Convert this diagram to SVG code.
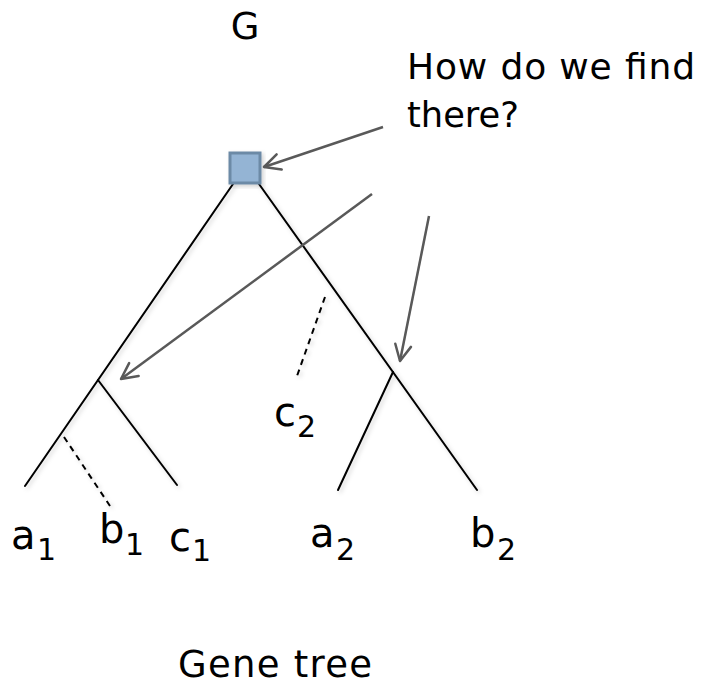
<svg xmlns="http://www.w3.org/2000/svg" width="710" height="689" viewBox="0 0 710 689">
<style>
.t{font-family:"DejaVu Sans","Liberation Sans",sans-serif;fill:#000}
.lbl{font-size:40px}
.sub{font-size:30px}
.edge{stroke:#000;stroke-width:2;fill:none;stroke-linecap:round}
.dash{stroke-dasharray:6 5;stroke-linecap:butt}
.arrow{stroke:#595959;stroke-width:2.5;fill:none;marker-end:url(#open)}
</style>
<defs>
<marker id="open" viewBox="0 0 20 20" refX="18" refY="10" markerWidth="20" markerHeight="20" markerUnits="userSpaceOnUse" orient="auto">
<path d="M2,2 L18,10 L2,18" fill="none" stroke="#595959" stroke-width="2.5" stroke-linecap="round" stroke-linejoin="round"/>
</marker>
<filter id="sh" x="-20%" y="-20%" width="140%" height="140%">
<feDropShadow dx="2" dy="2" stdDeviation="2" flood-color="#000" flood-opacity="0.18"/>
</filter>
</defs>
<rect width="710" height="689" fill="#fff"/>

<text class="t" x="245" y="39" font-size="37" text-anchor="middle">G</text>
<text class="t" x="407" y="79" font-size="36" textLength="288" lengthAdjust="spacing">How do we find</text>
<text class="t" x="407" y="127" font-size="36" textLength="112" lengthAdjust="spacingAndGlyphs">there?</text>
<text class="t" x="178" y="677" font-size="37" textLength="194" lengthAdjust="spacing">Gene tree</text>

<g id="tree" filter="url(#sh)">
<line class="edge" x1="233" y1="184" x2="25" y2="486"/>
<line class="edge" x1="98" y1="380" x2="177" y2="485"/>
<line class="edge" x1="259" y1="184" x2="477" y2="490"/>
<line class="edge" x1="393" y1="372" x2="338" y2="490"/>
<line class="edge dash" x1="64" y1="437" x2="110" y2="506"/>
<line class="edge dash" x1="325" y1="297" x2="297" y2="376"/>
</g>

<g id="root">
<rect x="230" y="153" width="30" height="30" fill="#94b4d4" stroke="#6c8aa6" stroke-width="3" filter="url(#sh)"/>
</g>

<g id="a1"><text class="t lbl" x="11" y="549">a</text><text class="t sub" x="37" y="560">1</text></g>
<g id="b1"><text class="t lbl" x="99" y="543">b</text><text class="t sub" x="125" y="555">1</text></g>
<g id="c1"><text class="t lbl" x="169" y="551">c</text><text class="t sub" x="192" y="561">1</text></g>
<g id="c2"><text class="t lbl" x="274" y="426">c</text><text class="t sub" x="297" y="437">2</text></g>
<g id="a2"><text class="t lbl" x="310" y="547">a</text><text class="t sub" x="336" y="560">2</text></g>
<g id="b2"><text class="t lbl" x="470" y="547">b</text><text class="t sub" x="497" y="560">2</text></g>

<g id="connectors">
<line class="arrow" x1="383" y1="127" x2="264" y2="167"/>
<line class="arrow" x1="372" y1="194" x2="121" y2="379"/>
<line class="arrow" x1="429" y1="216" x2="400" y2="361"/>
</g>
</svg>
